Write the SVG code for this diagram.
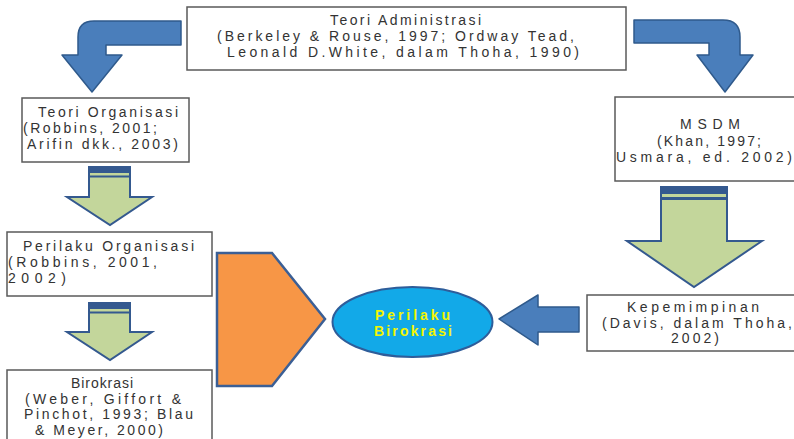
<svg xmlns="http://www.w3.org/2000/svg" width="794" height="439" viewBox="0 0 794 439">
<style>
.box{fill:#fff;stroke:#5a5a5a;stroke-width:1.5}
.t{font-family:"Liberation Sans",Arial,sans-serif;font-size:14px;fill:#333}
.blue{fill:#4a7ebb;stroke:#2f5a8c;stroke-width:1.5;stroke-linejoin:round}
.green{fill:#c3d69b;stroke:#34598f;stroke-width:2;stroke-linejoin:miter}
.band{fill:#34598f}
.yt{font-family:"Liberation Sans",Arial,sans-serif;font-size:14px;font-weight:bold;fill:#f2f500}
</style>
<rect width="794" height="439" fill="#fff"/>
<g id="connectors">
  <path class="blue" d="M181,21 L94,21 Q78,21 78,37 L78,55 L62,55 L92,92 L122,55 L106,55 L106,45 L181,45 Z"/>
  <path class="blue" d="M634,20 L723,20 Q740,20 740,37 L740,55 L753,55 L725,92 L697,55 L709,55 L709,43 L634,43 Z"/>
  <g id="arrow-org">
    <path class="green" d="M89,167 L130,167 L130,197 L152,197 L110,225 L67,197 L89,197 Z"/>
    <rect class="band" x="89" y="167" width="41" height="6"/>
    <rect class="band" x="89" y="175.5" width="41" height="2"/>
  </g>
  <g id="arrow-po">
    <path class="green" d="M89,303 L130,303 L130,332 L152,332 L110,360 L67,332 L89,332 Z"/>
    <rect class="band" x="89" y="303" width="41" height="6"/>
    <rect class="band" x="89" y="311.5" width="41" height="2"/>
  </g>
  <g id="arrow-msdm">
    <path class="green" d="M661,187 L727,187 L727,241 L762,241 L694,287 L627,241 L661,241 Z"/>
    <rect class="band" x="661" y="187" width="66" height="7"/>
    <rect class="band" x="661" y="197" width="66" height="3"/>
  </g>
  <polygon class="blue" points="499,319 538,295 538,307 579,307 579,332 538,332 538,345"/>
  <polygon id="merge" points="217,253 272,253 325,319 272,386 217,386" fill="#f79646" stroke="#3b5f95" stroke-width="2.5" stroke-linejoin="miter"/>
</g>
<g id="teori-administrasi">
  <rect class="box" x="187" y="7" width="439" height="63"/>
  <text class="t" x="330" y="25" textLength="151" lengthAdjust="spacing">Teori Administrasi</text>
  <text class="t" x="217" y="41" textLength="357" lengthAdjust="spacing">(Berkeley &amp; Rouse, 1997; Ordway Tead,</text>
  <text class="t" x="227" y="57" textLength="352" lengthAdjust="spacing">Leonald D.White, dalam Thoha, 1990)</text>
</g>
<g id="teori-organisasi">
  <rect class="box" x="22" y="98" width="167" height="64"/>
  <text class="t" x="38" y="117" textLength="140" lengthAdjust="spacing">Teori Organisasi</text>
  <text class="t" x="23" y="133" textLength="134" lengthAdjust="spacing">(Robbins, 2001;</text>
  <text class="t" x="27" y="149" textLength="151" lengthAdjust="spacing">Arifin dkk., 2003)</text>
</g>
<g id="perilaku-organisasi">
  <rect class="box" x="7" y="232" width="205" height="64"/>
  <text class="t" x="23" y="251" textLength="171" lengthAdjust="spacing">Perilaku Organisasi</text>
  <text class="t" x="8" y="267" textLength="149" lengthAdjust="spacing">(Robbins, 2001,</text>
  <text class="t" x="8" y="283" textLength="58" lengthAdjust="spacing">2002)</text>
</g>
<g id="birokrasi">
  <rect class="box" x="7" y="370" width="205" height="80"/>
  <text class="t" x="71" y="388" textLength="62" lengthAdjust="spacing">Birokrasi</text>
  <text class="t" x="25" y="403.5" textLength="156" lengthAdjust="spacing">(Weber, Giffort &amp;</text>
  <text class="t" x="24" y="419" textLength="169" lengthAdjust="spacing">Pinchot, 1993; Blau</text>
  <text class="t" x="35" y="434.5" textLength="128" lengthAdjust="spacing">&amp; Meyer, 2000)</text>
</g>
<g id="msdm">
  <rect class="box" x="615" y="97" width="190" height="84"/>
  <text class="t" x="680" y="129" textLength="60" lengthAdjust="spacing">MSDM</text>
  <text class="t" x="657" y="146" textLength="104" lengthAdjust="spacing">(Khan, 1997;</text>
  <text class="t" x="616" y="162" textLength="176" lengthAdjust="spacing">Usmara, ed. 2002)</text>
</g>
<g id="kepemimpinan">
  <rect class="box" x="587" y="295" width="220" height="56"/>
  <text class="t" x="627" y="312" textLength="132" lengthAdjust="spacing">Kepemimpinan</text>
  <text class="t" x="602" y="327.5" textLength="190" lengthAdjust="spacing">(Davis, dalam Thoha,</text>
  <text class="t" x="671" y="343" textLength="48" lengthAdjust="spacing">2002)</text>
</g>
<g id="perilaku-birokrasi">
  <ellipse cx="412.5" cy="322" rx="80" ry="35" fill="#12a9e8" stroke="#2e5d9a" stroke-width="2"/>
  <text class="yt" x="375" y="320" textLength="75" lengthAdjust="spacing">Perilaku</text>
  <text class="yt" x="374" y="336" textLength="78" lengthAdjust="spacing">Birokrasi</text>
</g>
</svg>
